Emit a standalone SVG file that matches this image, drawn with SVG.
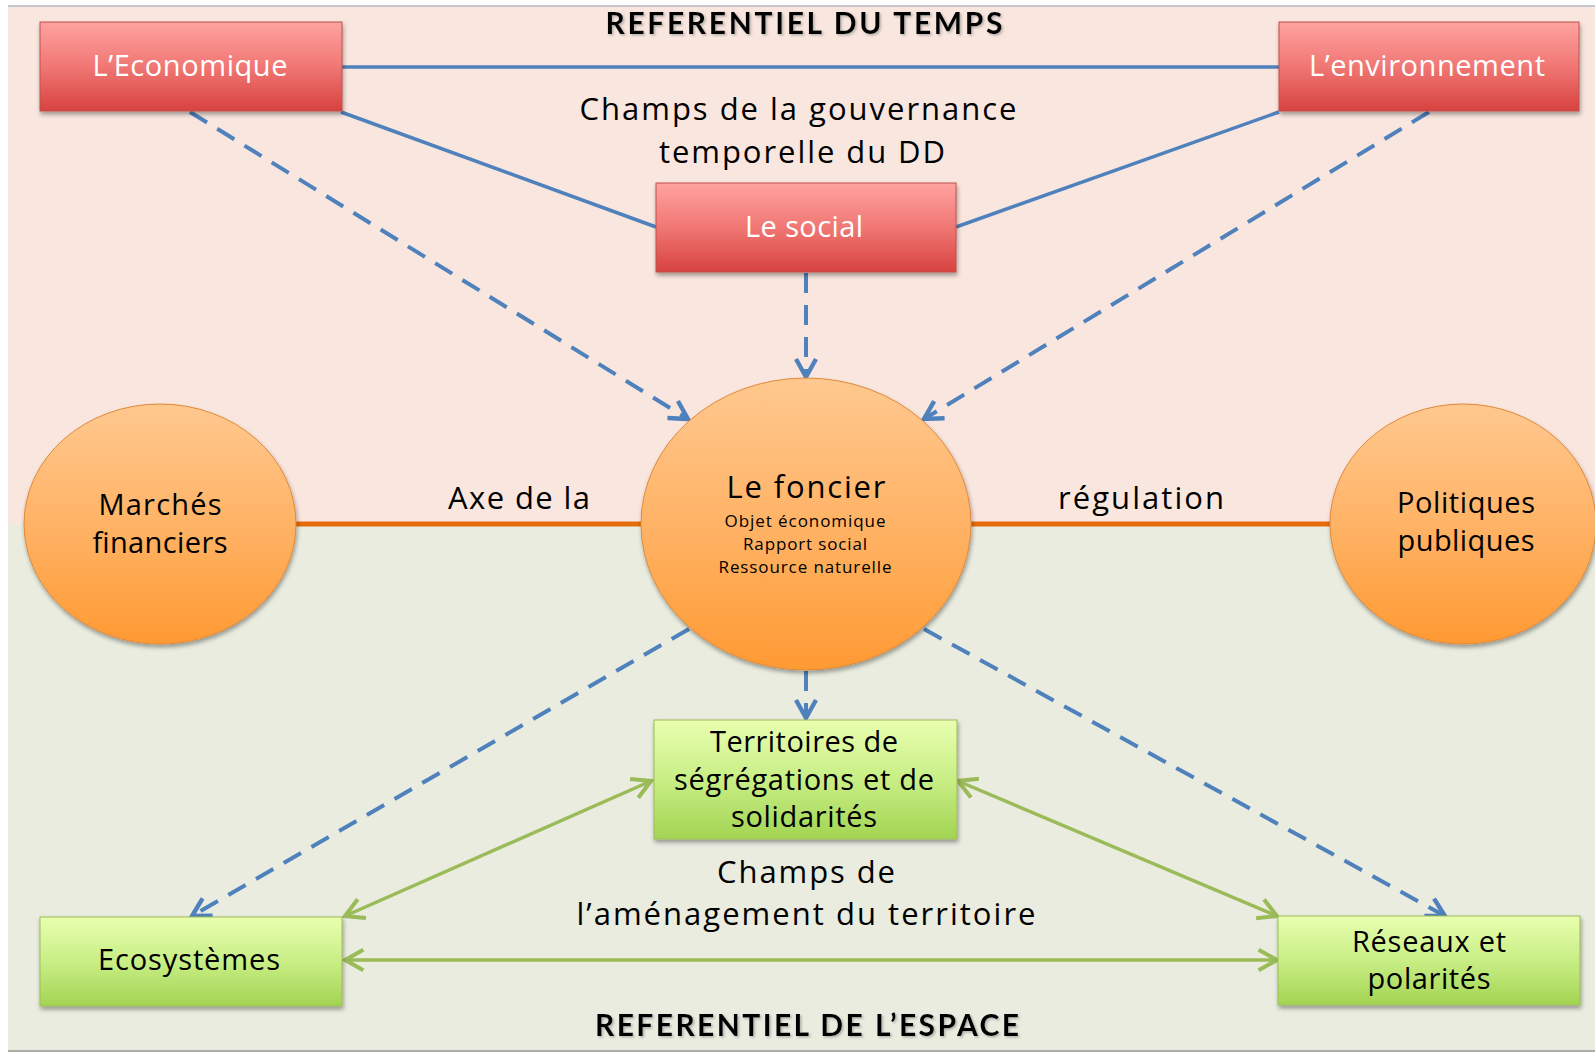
<svg xmlns="http://www.w3.org/2000/svg" width="1595" height="1053" viewBox="0 0 1595 1053">
<style>
.t{font-family:"Open Sans",Lato,"Liberation Sans",sans-serif;}
.w{fill:#ffffff;font-size:29px;}
.k{fill:#000000;}
.title{font-family:Lato,"Liberation Sans",sans-serif;font-weight:bold;font-size:30px;fill:#000;}
.solid{stroke:#4F81BD;stroke-width:3.5;fill:none;}
.dash{stroke:#4F81BD;stroke-width:4;fill:none;stroke-dasharray:20 12;marker-end:url(#ab);}
.grn{stroke:#9BBB59;stroke-width:3.5;fill:none;marker-start:url(#ag);marker-end:url(#ag);}
.org{stroke:#E46C0A;stroke-width:5;fill:none;}
.rbox{fill:url(#gr);stroke:#C0504D;stroke-width:1;filter:url(#sh);}
.gbox{fill:url(#gg);stroke:#9BBB59;stroke-width:1;filter:url(#sh);}
.oell{fill:url(#go);stroke:#E0893A;stroke-width:1;filter:url(#sh);}
</style>
<defs>
<linearGradient id="gr" x1="0" y1="0" x2="0" y2="1">
<stop offset="0" stop-color="#FFA3A0"/><stop offset="0.5" stop-color="#F07774"/><stop offset="1" stop-color="#D7423F"/>
</linearGradient>
<linearGradient id="gg" x1="0" y1="0" x2="0" y2="1">
<stop offset="0" stop-color="#E9FFB0"/><stop offset="0.5" stop-color="#C8EE85"/><stop offset="1" stop-color="#A3D452"/>
</linearGradient>
<linearGradient id="go" x1="0" y1="0" x2="0" y2="1">
<stop offset="0" stop-color="#FFC88F"/><stop offset="0.5" stop-color="#FFB366"/><stop offset="1" stop-color="#FF9A33"/>
</linearGradient>
<filter id="sh" x="-10%" y="-10%" width="125%" height="130%">
<feDropShadow dx="1" dy="3" stdDeviation="2" flood-color="#000" flood-opacity="0.35"/>
</filter>
<filter id="ts" x="-5%" y="-20%" width="110%" height="150%">
<feDropShadow dx="1.5" dy="1.5" stdDeviation="1" flood-color="#888" flood-opacity="0.6"/>
</filter>
<marker id="ab" viewBox="0 0 12 12" refX="10" refY="6" markerWidth="6" markerHeight="6" markerUnits="strokeWidth" orient="auto-start-reverse">
<path d="M1,1 L10,6 L1,11" fill="none" stroke="#4F81BD" stroke-width="2.2"/>
</marker>
<marker id="ag" viewBox="0 0 12 12" refX="10" refY="6" markerWidth="7" markerHeight="7" markerUnits="strokeWidth" orient="auto-start-reverse">
<path d="M1,1 L10,6 L1,11" fill="none" stroke="#9BBB59" stroke-width="2"/>
</marker>
</defs>

<rect x="0" y="0" width="1595" height="1053" fill="#ffffff"/>
<rect x="8" y="7" width="1587" height="517" fill="#F9E6DE"/>
<rect x="8" y="524" width="1587" height="527" fill="#E9ECDF"/>
<line x1="8" y1="6" x2="1595" y2="6" stroke="#C4C7CC" stroke-width="2"/>
<line x1="8" y1="1051" x2="1595" y2="1051" stroke="#A9ADA8" stroke-width="2"/>

<text class="title" x="804" y="34" text-anchor="middle" textLength="397" filter="url(#ts)">REFERENTIEL DU TEMPS</text>
<text class="title" x="807" y="1036" text-anchor="middle" textLength="424" filter="url(#ts)">REFERENTIEL DE L’ESPACE</text>

<g id="connectors">
<line class="solid" x1="342" y1="67" x2="1279" y2="67"/>
<line class="solid" x1="341" y1="112" x2="656" y2="227"/>
<line class="solid" x1="1279" y1="112" x2="956" y2="227"/>
<line class="dash" x1="190" y1="112" x2="688" y2="419"/>
<line class="dash" x1="1429" y1="112" x2="924" y2="419"/>
<line class="dash" x1="806" y1="273" x2="806" y2="377"/>
<line class="dash" x1="806" y1="671" x2="806" y2="718"/>
<line class="dash" x1="689" y1="629" x2="192" y2="916"/>
<line class="dash" x1="924" y1="629" x2="1445" y2="916"/>
<line class="grn" x1="651" y1="781" x2="345" y2="916"/>
<line class="grn" x1="958" y1="781" x2="1277" y2="916"/>
<line class="grn" x1="345" y1="960" x2="1277" y2="960"/>
<line class="org" x1="296" y1="524" x2="641" y2="524"/>
<line class="org" x1="971" y1="524" x2="1331" y2="524"/>
</g>

<g class="t k" font-size="31">
<text x="798" y="120" text-anchor="middle" textLength="437">Champs de la gouvernance</text>
<text x="802" y="163" text-anchor="middle" textLength="286">temporelle du DD</text>
<text x="519" y="509" text-anchor="middle" textLength="142">Axe de la</text>
<text x="1141" y="509" text-anchor="middle" textLength="166">régulation</text>
<text x="806" y="883" text-anchor="middle" textLength="178">Champs de</text>
<text x="806" y="925" text-anchor="middle" textLength="459">l’aménagement du territoire</text>
</g>

<g id="economique">
<rect class="rbox" x="40" y="22" width="302" height="89"/>
<text class="t w" x="190" y="76" text-anchor="middle" textLength="195">L’Economique</text>
</g>
<g id="environnement">
<rect class="rbox" x="1279" y="22" width="300" height="89"/>
<text class="t w" x="1427" y="76" text-anchor="middle" textLength="236">L’environnement</text>
</g>
<g id="social">
<rect class="rbox" x="656" y="183" width="300" height="89"/>
<text class="t w" x="804" y="237" text-anchor="middle" textLength="118">Le social</text>
</g>

<g id="foncier">
<ellipse class="oell" cx="806" cy="524" rx="165" ry="146"/>
<text class="t k" x="806" y="498" text-anchor="middle" font-size="31" textLength="159">Le foncier</text>
<text class="t k" x="805" y="527" text-anchor="middle" font-size="17" textLength="161">Objet économique</text>
<text class="t k" x="805" y="550" text-anchor="middle" font-size="17" textLength="124">Rapport social</text>
<text class="t k" x="805" y="573" text-anchor="middle" font-size="17" textLength="173">Ressource naturelle</text>
</g>
<g id="marches">
<ellipse class="oell" cx="160" cy="524" rx="136" ry="120"/>
<text class="t k" x="160" y="515" text-anchor="middle" font-size="29" textLength="123">Marchés</text>
<text class="t k" x="160" y="553" text-anchor="middle" font-size="29" textLength="135">financiers</text>
</g>
<g id="politiques">
<ellipse class="oell" cx="1463" cy="524" rx="133" ry="120"/>
<text class="t k" x="1466" y="513" text-anchor="middle" font-size="29" textLength="138">Politiques</text>
<text class="t k" x="1466" y="551" text-anchor="middle" font-size="29" textLength="137">publiques</text>
</g>

<g id="territoires">
<rect class="gbox" x="654" y="720" width="303" height="119"/>
<text class="t k" x="804" y="752" text-anchor="middle" font-size="29" textLength="188">Territoires de</text>
<text class="t k" x="804" y="790" text-anchor="middle" font-size="29" textLength="260">ségrégations et de</text>
<text class="t k" x="804" y="827" text-anchor="middle" font-size="29" textLength="146">solidarités</text>
</g>
<g id="ecosystemes">
<rect class="gbox" x="40" y="917" width="302" height="89"/>
<text class="t k" x="189" y="970" text-anchor="middle" font-size="29" textLength="182">Ecosystèmes</text>
</g>
<g id="reseaux">
<rect class="gbox" x="1278" y="916" width="302" height="89"/>
<text class="t k" x="1429" y="952" text-anchor="middle" font-size="29" textLength="154">Réseaux et</text>
<text class="t k" x="1429" y="989" text-anchor="middle" font-size="29" textLength="123">polarités</text>
</g>
</svg>
